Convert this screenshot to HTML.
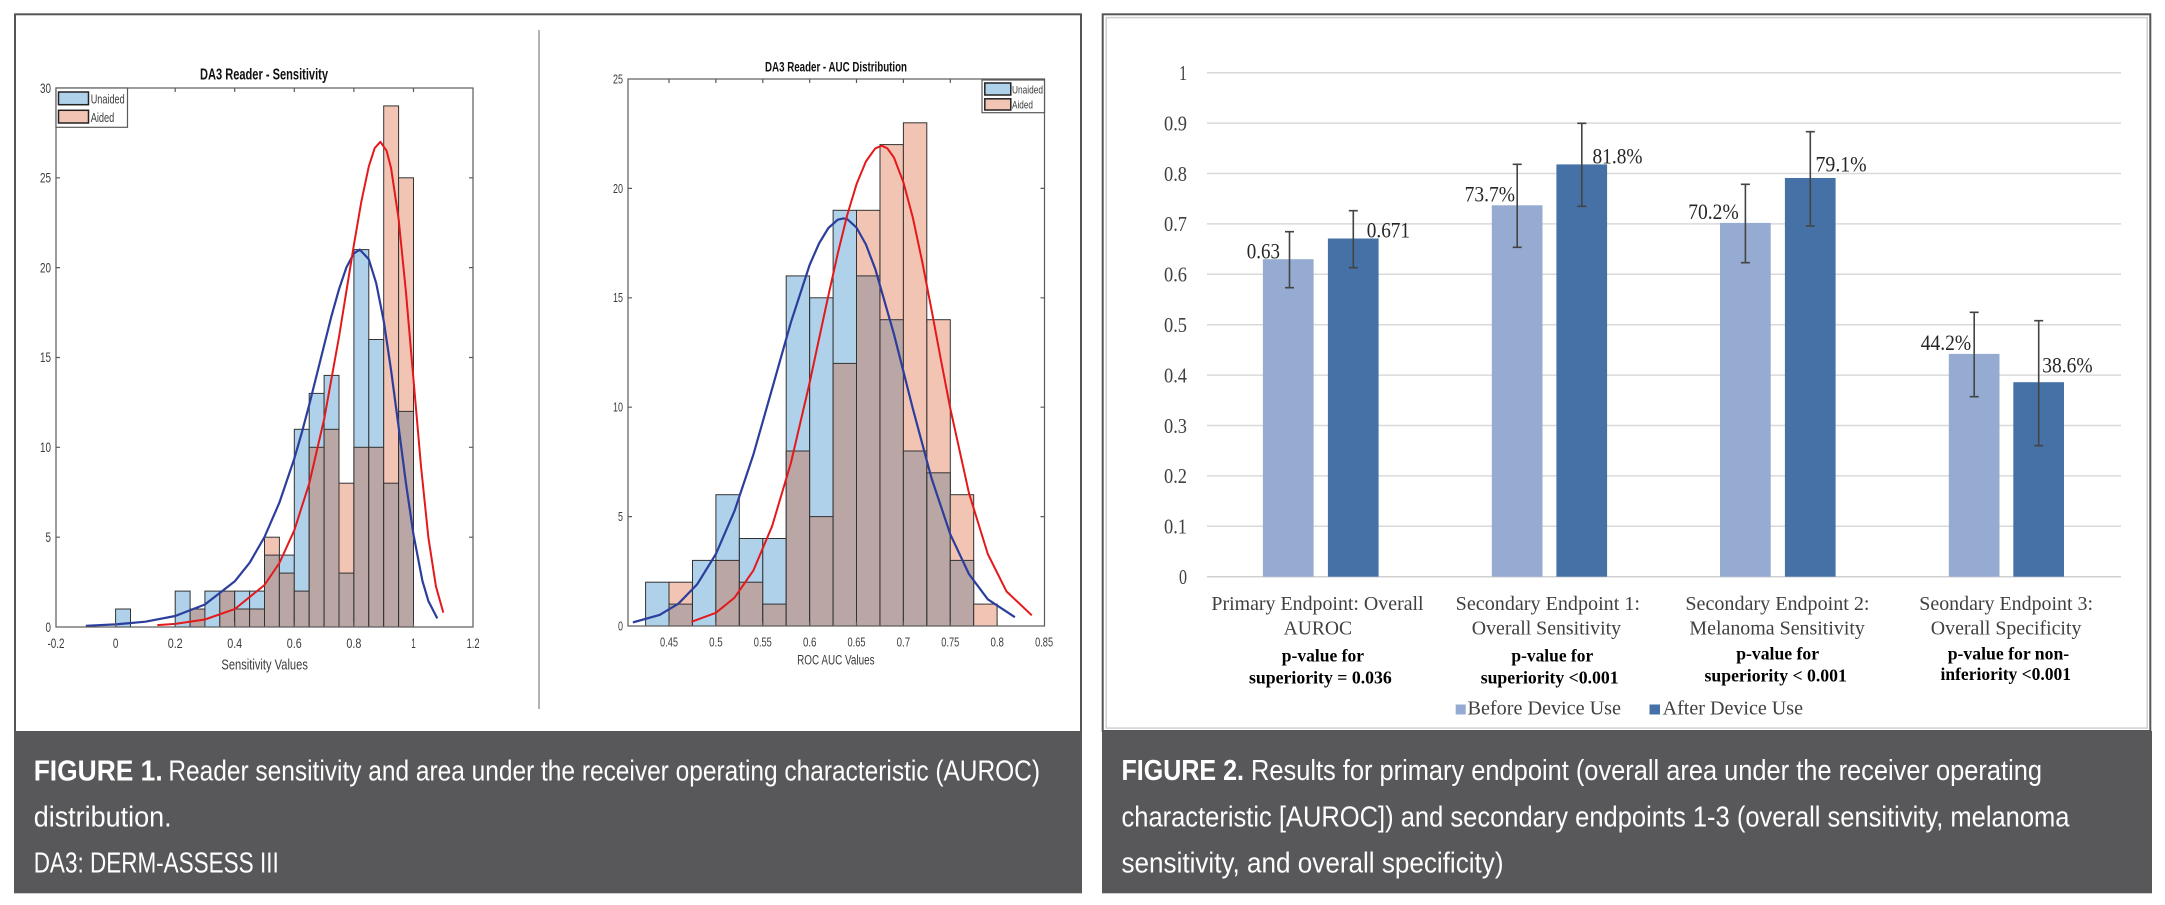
<!DOCTYPE html>
<html>
<head>
<meta charset="utf-8">
<style>
html,body{margin:0;padding:0;background:#fff;}
svg{display:block;}
.t{font-family:"Liberation Sans",Arial,sans-serif;}
.s{font-family:"Liberation Serif","Times New Roman",serif;}
</style>
</head>
<body>
<svg width="2165" height="905" viewBox="0 0 2165 905" xmlns="http://www.w3.org/2000/svg">
<rect x="0" y="0" width="2165" height="905" fill="#fff"/>

<!-- ============ FIGURE 1 FRAME ============ -->
<rect x="15" y="14.3" width="1066" height="718" fill="#fff" stroke="#555" stroke-width="2"/>
<rect x="14" y="731" width="1068" height="162.3" fill="#58585a"/>
<line x1="539" y1="30" x2="539" y2="709" stroke="#9a9a9a" stroke-width="1.5"/>

<!-- ============ CHART 1 (Sensitivity) ============ -->
<g stroke="#333" stroke-width="1">
<rect x="115.6" y="609.0" width="14.9" height="18.0" fill="#afd1ea"/>
<rect x="175.2" y="591.1" width="14.9" height="35.9" fill="#afd1ea"/>
<rect x="190.1" y="609.0" width="14.9" height="18.0" fill="#afd1ea"/>
<rect x="190.1" y="609.0" width="14.9" height="18.0" fill="#f2c4b4"/>
<rect x="190.1" y="609.0" width="14.9" height="18.0" fill="#b9a6a5"/>
<rect x="204.9" y="591.1" width="14.9" height="35.9" fill="#afd1ea"/>
<rect x="219.8" y="591.1" width="14.9" height="35.9" fill="#b9a6a5"/>
<rect x="234.7" y="591.1" width="14.9" height="35.9" fill="#afd1ea"/>
<rect x="234.7" y="609.0" width="14.9" height="18.0" fill="#b9a6a5"/>
<rect x="249.6" y="591.1" width="14.9" height="35.9" fill="#afd1ea"/>
<rect x="249.6" y="609.0" width="14.9" height="18.0" fill="#b9a6a5"/>
<rect x="264.5" y="537.2" width="14.9" height="89.8" fill="#f2c4b4"/>
<rect x="264.5" y="555.1" width="14.9" height="71.9" fill="#b9a6a5"/>
<rect x="279.4" y="555.1" width="14.9" height="71.9" fill="#afd1ea"/>
<rect x="279.4" y="573.1" width="14.9" height="53.9" fill="#b9a6a5"/>
<rect x="294.3" y="429.3" width="14.9" height="197.7" fill="#afd1ea"/>
<rect x="294.3" y="591.1" width="14.9" height="35.9" fill="#b9a6a5"/>
<rect x="309.2" y="393.4" width="14.9" height="233.6" fill="#afd1ea"/>
<rect x="309.2" y="447.3" width="14.9" height="179.7" fill="#b9a6a5"/>
<rect x="324.1" y="375.4" width="14.9" height="251.6" fill="#afd1ea"/>
<rect x="324.1" y="429.3" width="14.9" height="197.7" fill="#b9a6a5"/>
<rect x="339.0" y="483.2" width="14.9" height="143.8" fill="#f2c4b4"/>
<rect x="339.0" y="573.1" width="14.9" height="53.9" fill="#b9a6a5"/>
<rect x="353.9" y="249.6" width="14.9" height="377.4" fill="#afd1ea"/>
<rect x="353.9" y="447.3" width="14.9" height="179.7" fill="#b9a6a5"/>
<rect x="368.8" y="339.5" width="14.9" height="287.5" fill="#afd1ea"/>
<rect x="368.8" y="447.3" width="14.9" height="179.7" fill="#b9a6a5"/>
<rect x="383.7" y="105.9" width="14.9" height="521.1" fill="#f2c4b4"/>
<rect x="383.7" y="483.2" width="14.9" height="143.8" fill="#b9a6a5"/>
<rect x="398.6" y="177.8" width="14.9" height="449.2" fill="#f2c4b4"/>
<rect x="398.6" y="411.4" width="14.9" height="215.6" fill="#b9a6a5"/>
</g>

<polyline fill="none" stroke="#2c3e9c" stroke-width="2.2" stroke-linejoin="round" points="85.8,625.8 115.6,624.4 145.4,621.7 175.2,616.0 204.9,604.5 234.7,581.4 249.7,562.7 264.5,537.0 279.4,502.6 294.3,458.6 301.8,432.7 309.2,404.9 316.6,375.4 324.1,345.4 331.5,315.9 339.0,289.3 346.4,267.4 353.9,253.4 359.8,249.6 368.8,259.3 376.2,283.2 383.7,320.8 391.1,370.4 398.6,426.8 406.0,483.6 413.5,534.6 422.4,580.8 428.4,601.1 437.3,618.4"/>
<polyline fill="none" stroke="#e3191c" stroke-width="2" stroke-linejoin="round" points="157.3,625.1 175.2,623.9 204.9,619.5 234.7,609.1 264.5,585.0 279.4,563.0 294.3,530.3 309.2,483.6 324.1,419.4 339.0,337.0 346.4,291.1 353.9,244.9 361.3,201.8 368.8,166.4 374.7,148.1 380.4,141.8 386.6,150.8 391.1,168.2 398.6,218.9 406.0,292.6 413.5,379.7 421.0,466.2 428.4,537.7 435.9,586.2 443.3,612.6"/>

<rect x="56" y="88" width="417" height="539" fill="none" stroke="#5a5a5a" stroke-width="1.2"/>
<g stroke="#5a5a5a" stroke-width="1.2">
<path d="M115.6,627v-4M175.2,627v-4M234.7,627v-4M294.3,627v-4M353.9,627v-4M413.5,627v-4"/>
<path d="M115.6,88v4M175.2,88v4M234.7,88v4M294.3,88v4M353.9,88v4M413.5,88v4"/>
<path d="M56,537.2h4M56,447.3h4M56,357.5h4M56,267.6h4M56,177.8h4"/>
<path d="M473,537.2h-4M473,447.3h-4M473,357.5h-4M473,267.6h-4M473,177.8h-4"/>
</g>
<g class="t" font-size="14" fill="#3c3c3c" text-anchor="end">
<text x="51" y="632" textLength="5.5" lengthAdjust="spacingAndGlyphs">0</text>
<text x="51" y="542" textLength="5.5" lengthAdjust="spacingAndGlyphs">5</text>
<text x="51" y="452" textLength="11" lengthAdjust="spacingAndGlyphs">10</text>
<text x="51" y="362" textLength="11" lengthAdjust="spacingAndGlyphs">15</text>
<text x="51" y="272.5" textLength="11" lengthAdjust="spacingAndGlyphs">20</text>
<text x="51" y="182.5" textLength="11" lengthAdjust="spacingAndGlyphs">25</text>
<text x="51" y="93" textLength="11" lengthAdjust="spacingAndGlyphs">30</text>
</g>
<g class="t" font-size="14" fill="#3c3c3c" text-anchor="middle">
<text x="56" y="648" textLength="17" lengthAdjust="spacingAndGlyphs">-0.2</text>
<text x="115.6" y="648" textLength="5.5" lengthAdjust="spacingAndGlyphs">0</text>
<text x="175.2" y="648" textLength="15" lengthAdjust="spacingAndGlyphs">0.2</text>
<text x="234.7" y="648" textLength="15" lengthAdjust="spacingAndGlyphs">0.4</text>
<text x="294.3" y="648" textLength="15" lengthAdjust="spacingAndGlyphs">0.6</text>
<text x="353.9" y="648" textLength="15" lengthAdjust="spacingAndGlyphs">0.8</text>
<text x="413.5" y="648" textLength="4.5" lengthAdjust="spacingAndGlyphs">1</text>
<text x="473.1" y="648" textLength="13" lengthAdjust="spacingAndGlyphs">1.2</text>
</g>
<text class="t" x="221.4" y="669.5" font-size="15" fill="#3c3c3c" textLength="86.5" lengthAdjust="spacingAndGlyphs">Sensitivity Values</text>
<text class="t" x="200" y="79.3" font-size="16" font-weight="bold" fill="#111" textLength="128" lengthAdjust="spacingAndGlyphs">DA3 Reader - Sensitivity</text>

<rect x="56" y="88" width="71.5" height="39.3" fill="#fff" stroke="#5a5a5a" stroke-width="1.2"/>
<rect x="58.5" y="92" width="30" height="12.7" fill="#afd1ea" stroke="#222" stroke-width="1.5"/>
<rect x="58.5" y="110.3" width="30" height="12.7" fill="#f2c4b4" stroke="#222" stroke-width="1.5"/>
<text class="t" x="90.7" y="103.5" font-size="13" fill="#3c3c3c" textLength="34" lengthAdjust="spacingAndGlyphs">Unaided</text>
<text class="t" x="90.7" y="122" font-size="13" fill="#3c3c3c" textLength="23.6" lengthAdjust="spacingAndGlyphs">Aided</text>

<!-- ============ CHART 2 (AUC) ============ -->
<g stroke="#333" stroke-width="1">
<rect x="645.6" y="582.2" width="23.4" height="43.8" fill="#afd1ea"/>
<rect x="669.0" y="582.2" width="23.4" height="43.8" fill="#f2c4b4"/>
<rect x="669.0" y="604.1" width="23.4" height="21.9" fill="#b9a6a5"/>
<rect x="692.5" y="560.4" width="23.4" height="65.6" fill="#afd1ea"/>
<rect x="715.9" y="494.7" width="23.4" height="131.3" fill="#afd1ea"/>
<rect x="715.9" y="560.4" width="23.4" height="65.6" fill="#b9a6a5"/>
<rect x="739.4" y="538.5" width="23.4" height="87.5" fill="#afd1ea"/>
<rect x="739.4" y="582.2" width="23.4" height="43.8" fill="#b9a6a5"/>
<rect x="762.8" y="538.5" width="23.4" height="87.5" fill="#afd1ea"/>
<rect x="762.8" y="604.1" width="23.4" height="21.9" fill="#b9a6a5"/>
<rect x="786.2" y="275.9" width="23.4" height="350.1" fill="#afd1ea"/>
<rect x="786.2" y="451.0" width="23.4" height="175.0" fill="#b9a6a5"/>
<rect x="809.7" y="297.8" width="23.4" height="328.2" fill="#afd1ea"/>
<rect x="809.7" y="516.6" width="23.4" height="109.4" fill="#b9a6a5"/>
<rect x="833.1" y="210.3" width="23.4" height="415.7" fill="#afd1ea"/>
<rect x="833.1" y="363.4" width="23.4" height="262.6" fill="#b9a6a5"/>
<rect x="856.5" y="210.3" width="23.4" height="415.7" fill="#f2c4b4"/>
<rect x="856.5" y="275.9" width="23.4" height="350.1" fill="#b9a6a5"/>
<rect x="880.0" y="144.6" width="23.4" height="481.4" fill="#f2c4b4"/>
<rect x="880.0" y="319.7" width="23.4" height="306.3" fill="#b9a6a5"/>
<rect x="903.4" y="122.8" width="23.4" height="503.2" fill="#f2c4b4"/>
<rect x="903.4" y="451.0" width="23.4" height="175.0" fill="#b9a6a5"/>
<rect x="926.9" y="319.7" width="23.4" height="306.3" fill="#f2c4b4"/>
<rect x="926.9" y="472.8" width="23.4" height="153.2" fill="#b9a6a5"/>
<rect x="950.3" y="494.7" width="23.4" height="131.3" fill="#f2c4b4"/>
<rect x="950.3" y="560.4" width="23.4" height="65.6" fill="#b9a6a5"/>
<rect x="973.7" y="604.1" width="23.4" height="21.9" fill="#f2c4b4"/>
</g>

<polyline fill="none" stroke="#2c3e9c" stroke-width="2.2" stroke-linejoin="round" points="632.9,622.4 659.6,614.9 678.4,603.7 697.1,584.4 715.9,554.0 734.6,510.7 753.4,454.5 772.1,388.8 790.9,322.3 809.6,265.0 819.0,243.5 828.4,228.0 837.8,219.7 843.4,218.4 847.1,219.0 856.5,227.6 865.9,244.4 875.3,269.1 894.0,334.3 912.8,408.5 931.5,478.1 950.3,534.3 969.0,574.1 987.8,599.3 1014.9,617.2"/>
<polyline fill="none" stroke="#e3191c" stroke-width="2" stroke-linejoin="round" points="691.5,621.8 715.9,612.8 734.6,597.6 753.4,570.4 772.1,526.2 790.9,463.0 809.6,382.9 819.0,339.0 828.4,295.4 837.8,253.4 847.1,215.5 856.5,184.3 865.9,161.5 875.2,148.4 881.8,145.7 887.4,148.4 894.0,157.6 903.4,182.3 912.8,217.5 922.1,261.1 931.5,309.6 940.9,359.8 950.3,408.5 969.0,493.2 987.8,554.0 1006.5,591.4 1031.8,615.3"/>

<rect x="628" y="79" width="416.5" height="547" fill="none" stroke="#5a5a5a" stroke-width="1.2"/>
<g stroke="#5a5a5a" stroke-width="1.2">
<path d="M669,626v-4M715.9,626v-4M762.8,626v-4M809.7,626v-4M856.5,626v-4M903.4,626v-4M950.3,626v-4M997.2,626v-4"/>
<path d="M669,79v4M715.9,79v4M762.8,79v4M809.7,79v4M856.5,79v4M903.4,79v4M950.3,79v4M997.2,79v4"/>
<path d="M628,516.6h4M628,407.2h4M628,297.8h4M628,188.4h4"/>
<path d="M1044.5,516.6h-4M1044.5,407.2h-4M1044.5,297.8h-4M1044.5,188.4h-4"/>
</g>
<g class="t" font-size="12.5" fill="#3c3c3c" text-anchor="end">
<text x="623" y="630.5" textLength="5" lengthAdjust="spacingAndGlyphs">0</text>
<text x="623" y="521" textLength="5" lengthAdjust="spacingAndGlyphs">5</text>
<text x="623" y="411.5" textLength="10" lengthAdjust="spacingAndGlyphs">10</text>
<text x="623" y="302" textLength="10" lengthAdjust="spacingAndGlyphs">15</text>
<text x="623" y="193" textLength="10" lengthAdjust="spacingAndGlyphs">20</text>
<text x="623" y="83.5" textLength="10" lengthAdjust="spacingAndGlyphs">25</text>
</g>
<g class="t" font-size="12.5" fill="#3c3c3c" text-anchor="middle">
<text x="669" y="646.5" textLength="18" lengthAdjust="spacingAndGlyphs">0.45</text>
<text x="715.9" y="646.5" textLength="13.5" lengthAdjust="spacingAndGlyphs">0.5</text>
<text x="762.8" y="646.5" textLength="18" lengthAdjust="spacingAndGlyphs">0.55</text>
<text x="809.7" y="646.5" textLength="13.5" lengthAdjust="spacingAndGlyphs">0.6</text>
<text x="856.5" y="646.5" textLength="18" lengthAdjust="spacingAndGlyphs">0.65</text>
<text x="903.4" y="646.5" textLength="13.5" lengthAdjust="spacingAndGlyphs">0.7</text>
<text x="950.3" y="646.5" textLength="18" lengthAdjust="spacingAndGlyphs">0.75</text>
<text x="997.2" y="646.5" textLength="13.5" lengthAdjust="spacingAndGlyphs">0.8</text>
<text x="1044.1" y="646.5" textLength="18" lengthAdjust="spacingAndGlyphs">0.85</text>
</g>
<text class="t" x="797.1" y="664.5" font-size="13.5" fill="#3c3c3c" textLength="77.5" lengthAdjust="spacingAndGlyphs">ROC AUC Values</text>
<text class="t" x="765" y="71.7" font-size="13.5" font-weight="bold" fill="#111" textLength="142" lengthAdjust="spacingAndGlyphs">DA3 Reader - AUC Distribution</text>

<rect x="982" y="80" width="62.5" height="32.7" fill="#fff" stroke="#5a5a5a" stroke-width="1.2"/>
<rect x="984.8" y="83" width="26" height="12" fill="#afd1ea" stroke="#222" stroke-width="1.5"/>
<rect x="984.8" y="98.8" width="26" height="11.2" fill="#f2c4b4" stroke="#222" stroke-width="1.5"/>
<text class="t" x="1012" y="93.3" font-size="11" fill="#3c3c3c" textLength="31" lengthAdjust="spacingAndGlyphs">Unaided</text>
<text class="t" x="1012" y="108.3" font-size="11" fill="#3c3c3c" textLength="21" lengthAdjust="spacingAndGlyphs">Aided</text>

<g class="t" fill="#fff" font-size="29">
<text x="33.7" y="780.5" font-weight="bold" textLength="129" lengthAdjust="spacingAndGlyphs">FIGURE 1.</text>
<text x="168.4" y="780.5" textLength="871.6" lengthAdjust="spacingAndGlyphs">Reader sensitivity and area under the receiver operating characteristic (AUROC)</text>
<text x="33.7" y="826.7" textLength="138" lengthAdjust="spacingAndGlyphs">distribution.</text>
<text x="33.7" y="872.7" textLength="245" lengthAdjust="spacingAndGlyphs">DA3: DERM-ASSESS III</text>
</g>

<!-- ============ FIGURE 2 FRAME ============ -->
<rect x="1102.7" y="14.3" width="1047.6" height="716.7" fill="#fff" stroke="#555" stroke-width="2"/>
<rect x="1106.2" y="17.6" width="1041" height="710.5" fill="none" stroke="#d0d0d0" stroke-width="1.5"/>
<rect x="1102" y="731" width="1050" height="162.3" fill="#58585a"/>

<g stroke="#d9d9d9" stroke-width="1.5">
<line x1="1207" y1="72.7" x2="2121" y2="72.7"/>
<line x1="1207" y1="123.1" x2="2121" y2="123.1"/>
<line x1="1207" y1="173.5" x2="2121" y2="173.5"/>
<line x1="1207" y1="223.9" x2="2121" y2="223.9"/>
<line x1="1207" y1="274.3" x2="2121" y2="274.3"/>
<line x1="1207" y1="324.7" x2="2121" y2="324.7"/>
<line x1="1207" y1="375.1" x2="2121" y2="375.1"/>
<line x1="1207" y1="425.5" x2="2121" y2="425.5"/>
<line x1="1207" y1="475.9" x2="2121" y2="475.9"/>
<line x1="1207" y1="526.3" x2="2121" y2="526.3"/>
<line x1="1207" y1="576.7" x2="2121" y2="576.7" stroke="#d0d0d0"/>
</g>
<g class="s" font-size="21" fill="#404040" text-anchor="end">
<text x="1187" y="80" textLength="8" lengthAdjust="spacingAndGlyphs">1</text>
<text x="1187" y="130.4" textLength="23" lengthAdjust="spacingAndGlyphs">0.9</text>
<text x="1187" y="180.8" textLength="23" lengthAdjust="spacingAndGlyphs">0.8</text>
<text x="1187" y="231.2" textLength="23" lengthAdjust="spacingAndGlyphs">0.7</text>
<text x="1187" y="281.6" textLength="23" lengthAdjust="spacingAndGlyphs">0.6</text>
<text x="1187" y="332" textLength="23" lengthAdjust="spacingAndGlyphs">0.5</text>
<text x="1187" y="382.4" textLength="23" lengthAdjust="spacingAndGlyphs">0.4</text>
<text x="1187" y="432.8" textLength="23" lengthAdjust="spacingAndGlyphs">0.3</text>
<text x="1187" y="483.2" textLength="23" lengthAdjust="spacingAndGlyphs">0.2</text>
<text x="1187" y="533.6" textLength="23" lengthAdjust="spacingAndGlyphs">0.1</text>
<text x="1187" y="584" textLength="8" lengthAdjust="spacingAndGlyphs">0</text>
</g>

<g>
<rect x="1262.9" y="259.2" width="50.7" height="317.5" fill="#95abd2"/>
<rect x="1327.9" y="238.5" width="50.7" height="338.2" fill="#4571a7"/>
<rect x="1491.8" y="205.3" width="50.7" height="371.4" fill="#95abd2"/>
<rect x="1556.4" y="164.4" width="50.7" height="412.3" fill="#4571a7"/>
<rect x="1720.0" y="222.9" width="50.7" height="353.8" fill="#95abd2"/>
<rect x="1784.9" y="178.0" width="50.7" height="398.7" fill="#4571a7"/>
<rect x="1948.8" y="353.9" width="50.7" height="222.8" fill="#95abd2"/>
<rect x="2013.3" y="382.2" width="50.7" height="194.5" fill="#4571a7"/>
</g>
<g stroke="#444" stroke-width="1.6" fill="none">
<path d="M1289.5,231.7V287.7M1285,231.7h9M1285,287.7h9"/>
<path d="M1353.3,210.7V267.7M1348.8,210.7h9M1348.8,267.7h9"/>
<path d="M1517.2,164.3V247.3M1512.7,164.3h9M1512.7,247.3h9"/>
<path d="M1581.8,123.3V206.3M1577.3,123.3h9M1577.3,206.3h9"/>
<path d="M1745.4,184.3V262.7M1740.9,184.3h9M1740.9,262.7h9"/>
<path d="M1810.3,131.7V226M1805.8,131.7h9M1805.8,226h9"/>
<path d="M1974.2,312.3V396.7M1969.7,312.3h9M1969.7,396.7h9"/>
<path d="M2038.7,320.7V445.7M2034.2,320.7h9M2034.2,445.7h9"/>
</g>
<g class="s" font-size="22" fill="#262626">
<text x="1246.8" y="258.3" textLength="33.2" lengthAdjust="spacingAndGlyphs">0.63</text>
<text x="1366.8" y="237.3" textLength="43.2" lengthAdjust="spacingAndGlyphs">0.671</text>
<text x="1464.6" y="201.7" textLength="50.4" lengthAdjust="spacingAndGlyphs">73.7%</text>
<text x="1592.5" y="163.3" textLength="50" lengthAdjust="spacingAndGlyphs">81.8%</text>
<text x="1688.3" y="219" textLength="50.4" lengthAdjust="spacingAndGlyphs">70.2%</text>
<text x="1815.5" y="171.7" textLength="51.2" lengthAdjust="spacingAndGlyphs">79.1%</text>
<text x="1920.7" y="350" textLength="50.5" lengthAdjust="spacingAndGlyphs">44.2%</text>
<text x="2042.2" y="372.3" textLength="50.4" lengthAdjust="spacingAndGlyphs">38.6%</text>
</g>
<g class="s" font-size="20" fill="#404040">
<text x="1211.4" y="610" textLength="212.2" lengthAdjust="spacingAndGlyphs">Primary Endpoint: Overall</text>
<text x="1283.6" y="634.3" textLength="68.4" lengthAdjust="spacingAndGlyphs">AUROC</text>
<text x="1455.7" y="610" textLength="184.3" lengthAdjust="spacingAndGlyphs">Secondary Endpoint 1:</text>
<text x="1471.8" y="634.3" textLength="149.2" lengthAdjust="spacingAndGlyphs">Overall Sensitivity</text>
<text x="1685.4" y="610" textLength="184.1" lengthAdjust="spacingAndGlyphs">Secondary Endpoint 2:</text>
<text x="1689.4" y="634.3" textLength="175.5" lengthAdjust="spacingAndGlyphs">Melanoma Sensitivity</text>
<text x="1919.3" y="610" textLength="173.7" lengthAdjust="spacingAndGlyphs">Seondary Endpoint 3:</text>
<text x="1930.8" y="634.3" textLength="150.6" lengthAdjust="spacingAndGlyphs">Overall Specificity</text>
</g>
<g class="s" font-size="18" font-weight="bold" fill="#000">
<text x="1281.8" y="661.7" textLength="82.2" lengthAdjust="spacingAndGlyphs">p-value for</text>
<text x="1249" y="683.3" textLength="142.8" lengthAdjust="spacingAndGlyphs">superiority = 0.036</text>
<text x="1511.4" y="661.7" textLength="81.8" lengthAdjust="spacingAndGlyphs">p-value for</text>
<text x="1480.7" y="683.3" textLength="137.9" lengthAdjust="spacingAndGlyphs">superiority &lt;0.001</text>
<text x="1736.2" y="659.3" textLength="82.9" lengthAdjust="spacingAndGlyphs">p-value for</text>
<text x="1704.5" y="681.7" textLength="142.3" lengthAdjust="spacingAndGlyphs">superiority &lt; 0.001</text>
<text x="1947.7" y="659.3" textLength="121.5" lengthAdjust="spacingAndGlyphs">p-value for non-</text>
<text x="1940.5" y="680" textLength="130.5" lengthAdjust="spacingAndGlyphs">inferiority &lt;0.001</text>
</g>
<rect x="1455.7" y="704.5" width="10" height="10" fill="#95abd2"/>
<text class="s" x="1467.5" y="714.3" font-size="20" fill="#404040" textLength="153.5" lengthAdjust="spacingAndGlyphs">Before Device Use</text>
<rect x="1649.5" y="704.5" width="10.5" height="10" fill="#4571a7"/>
<text class="s" x="1662.6" y="714.3" font-size="20" fill="#404040" textLength="140.4" lengthAdjust="spacingAndGlyphs">After Device Use</text>

<g class="t" fill="#fff" font-size="29">
<text x="1121.5" y="780" font-weight="bold" textLength="122.5" lengthAdjust="spacingAndGlyphs">FIGURE 2.</text>
<text x="1251" y="780" textLength="791" lengthAdjust="spacingAndGlyphs">Results for primary endpoint (overall area under the receiver operating</text>
<text x="1121.5" y="826.7" textLength="948" lengthAdjust="spacingAndGlyphs">characteristic [AUROC]) and secondary endpoints 1-3 (overall sensitivity, melanoma</text>
<text x="1121.5" y="872.7" textLength="382" lengthAdjust="spacingAndGlyphs">sensitivity, and overall specificity)</text>
</g>
</svg>
</body>
</html>
